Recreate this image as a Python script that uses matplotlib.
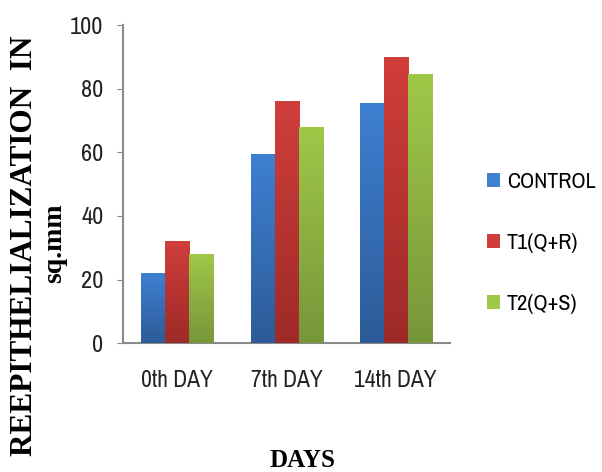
import numpy as np
import matplotlib
matplotlib.use("Agg")
import matplotlib.pyplot as plt
from matplotlib.colors import LinearSegmentedColormap

categories = ["0th DAY", "7th DAY", "14th DAY"]
series_names = ["CONTROL", "T1(Q+R)", "T2(Q+S)"]
control = [22, 59.5, 75.5]
t1 = [32, 76, 90]
t2 = [28, 68, 84.5]
yticks = [0, 20, 40, 60, 80, 100]

top_colors = ["#3E80D2", "#D03E3B", "#9FC848"]
bottom_colors = ["#2D5B98", "#9E2A28", "#77963A"]

SANS = "Archivo Narrow"
SERIF = "Liberation Serif"

fig = plt.figure(figsize=(6.02, 4.72), dpi=100)
ax = fig.add_axes([0.204, 0.273, 0.544, 0.674])

x = np.arange(len(categories))
width = 0.22
all_series = [control, t1, t2]
grad = np.linspace(0, 1, 256).reshape(-1, 1)
for i, (vals, name) in enumerate(zip(all_series, series_names)):
    bars = ax.bar(x + (i - 1) * width, vals, width, color=top_colors[i], label=name, zorder=2)
    cmap = LinearSegmentedColormap.from_list("g%d" % i, [bottom_colors[i], top_colors[i]])
    for b in bars:
        x0, w, h = b.get_x(), b.get_width(), b.get_height()
        im = ax.imshow(grad, cmap=cmap, aspect="auto", origin="lower",
                       extent=(x0, x0 + w, 0, h), zorder=3)
        im.set_clip_path(b)

ax.set_xlim(-0.5, 2.5)
ax.set_ylim(0, 100)
ax.set_yticks(yticks)
ax.set_xticks(x)
ax.set_xticklabels(categories, fontsize=17, family=SANS, color="#222222")
for lab in ax.get_yticklabels():
    lab.set_fontsize(17.5)
    lab.set_family(SANS)
    lab.set_color("#222222")
for s in ["top", "right"]:
    ax.spines[s].set_visible(False)
for s in ["left", "bottom"]:
    ax.spines[s].set_color("#8A8A8A")
    ax.spines[s].set_linewidth(1.5)
ax.tick_params(axis="y", length=4, color="#8A8A8A", pad=10)
ax.tick_params(axis="x", length=0, pad=19)

fig.text(0.04, 0.48, "REEPITHELIALIZATION  IN", rotation=90, ha="center", va="center",
         fontsize=22.5, fontweight="bold", family=SERIF)
fig.text(0.091, 0.485, "sq.mm", rotation=90, ha="center", va="center",
         fontsize=20, fontweight="bold", family=SERIF)
fig.text(0.503, 0.024, "DAYS", ha="center", va="center",
         fontsize=18, fontweight="bold", family=SERIF)

leg = fig.legend(loc="center left", bbox_to_anchor=(0.809, 0.485), frameon=False,
                 prop={"family": SANS, "size": 16},
                 handlelength=0.6, handleheight=0.6, handletextpad=0.3,
                 labelspacing=1.85, borderaxespad=0, borderpad=0)

fig.savefig("out.png", dpi=100)
